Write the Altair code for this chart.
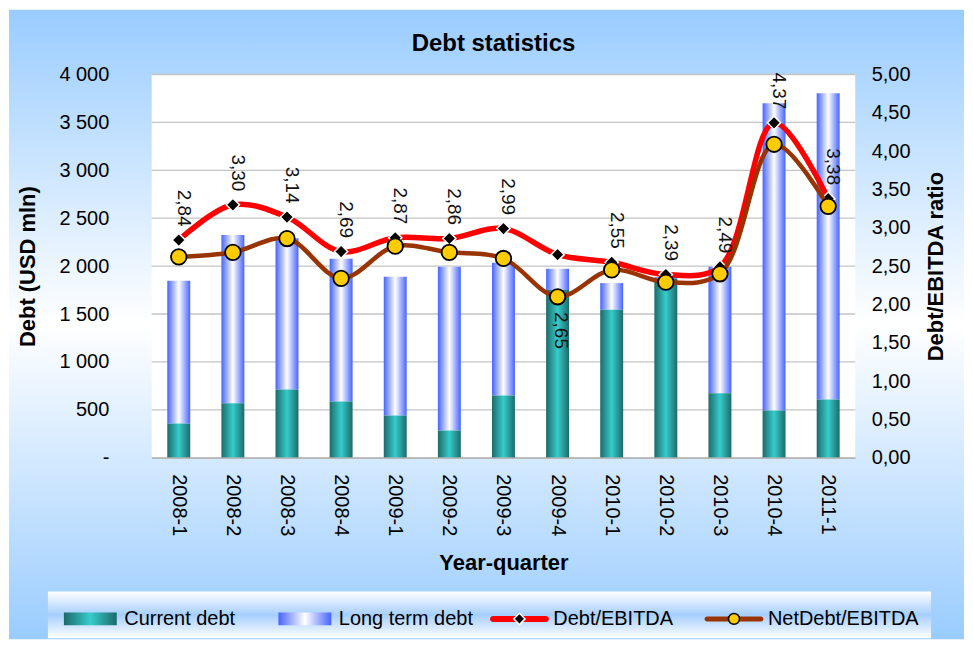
import altair as alt
import pandas as pd

# ---------------- data ----------------
quarters = ["2008-1", "2008-2", "2008-3", "2008-4", "2009-1", "2009-2", "2009-3",
            "2009-4", "2010-1", "2010-2", "2010-3", "2010-4", "2011-1"]
current_debt = [357, 569, 711, 586, 441, 284, 650, 1750, 1545, 1870, 673, 493, 607]
long_term_debt = [1490, 1757, 1581, 1490, 1447, 1709, 1385, 222, 278, 15, 1320, 3208, 3198]
debt_ebitda = [2.84, 3.30, 3.14, 2.69, 2.87, 2.86, 2.99, 2.65, 2.55, 2.39, 2.49, 4.37, 3.38]
netdebt_ebitda = [2.62, 2.68, 2.86, 2.34, 2.76, 2.68, 2.60, 2.10, 2.45, 2.29, 2.40, 4.09, 3.28]
debt_ticks = [0, 500, 1000, 1500, 2000, 2500, 3000, 3500, 4000]
ratio_ticks = [0, 0.5, 1.0, 1.5, 2.0, 2.5, 3.0, 3.5, 4.0, 4.5, 5.0]
legend_items = ["Current debt", "Long term debt", "Debt/EBITDA", "NetDebt/EBITDA"]

FONT = "Liberation Sans"
W, H = 705, 384

df = pd.DataFrame({
    "quarter": quarters,
    "current": current_debt,
    "long_term": long_term_debt,
    "debt_ratio": debt_ebitda,
    "net_ratio": netdebt_ebitda,
})
one_row = pd.DataFrame({"k": [0]})
ticks_df = pd.DataFrame({"tick": debt_ticks})
leg_df = pd.DataFrame({"item": legend_items})


def hgrad(edge, mid):
    return alt.LinearGradient(
        gradient="linear", x1=0, x2=1, y1=0, y2=0,
        stops=[alt.GradientStop(color=edge, offset=0),
               alt.GradientStop(color=mid, offset=0.5),
               alt.GradientStop(color=edge, offset=1)])


def vgrad(edge, mid):
    return alt.LinearGradient(
        gradient="linear", x1=0, x2=0, y1=0, y2=1,
        stops=[alt.GradientStop(color=edge, offset=0),
               alt.GradientStop(color=mid, offset=0.5),
               alt.GradientStop(color=edge, offset=1)])


teal_grad = hgrad("#1d6a6a", "#36cccc")
blue_grad = hgrad("#4664ff", "#ffffff")
bg_grad = vgrad("#99ccff", "#ffffff")
legend_grad = vgrad("#ffffff", "#a6cffd")

base = alt.Chart(df).transform_calculate(
    total="datum.current + datum.long_term",
    lbl="replace(format(datum.debt_ratio, '.2f'), '.', ',')",
)

# same axis objects are used in every layer that shares a scale
x_scale = alt.Scale(paddingInner=0, paddingOuter=0)
x_axis = alt.Axis(
    title="Year-quarter", labelAngle=90, labelFontSize=20, labelPadding=16,
    ticks=False, tickSize=0, domainColor="#b8b8b8", domainWidth=1.5,
    labelColor="black", titleColor="black", titleFontSize=22,
    titleFontWeight="bold", titlePadding=17, grid=False, zindex=1)
x_enc = alt.X("quarter:N", sort=quarters, scale=x_scale, axis=x_axis)

debt_scale = alt.Scale(domain=[0, 4000], nice=False, zero=True)
left_axis = alt.Axis(
    title="Debt (USD mln)", values=debt_ticks,
    labelExpr="datum.value == 0 ? '-' : replace(format(datum.value, ','), ',', ' ')",
    labelFontSize=20, labelPadding=43, ticks=False, tickSize=0, domain=False,
    grid=False, labelColor="black", titleColor="black", titleFontSize=22,
    titleFontWeight="bold", titlePadding=19, zindex=1)

ratio_scale = alt.Scale(domain=[0, 5], nice=False, zero=True)
right_axis = alt.Axis(
    orient="right", title="Debt/EBITDA ratio", values=ratio_ticks,
    labelExpr="replace(format(datum.value, '.2f'), '.', ',')",
    labelFontSize=20, labelPadding=16, ticks=False, tickSize=0, domain=False,
    grid=False, labelColor="black", titleColor="black", titleFontSize=22,
    titleFontWeight="bold", titleAngle=270, titleBaseline="top",
    titlePadding=16, zindex=1)

y_debt = lambda f: alt.Y(f, scale=debt_scale, axis=left_axis, stack=None)
y_ratio = lambda f: alt.Y(f, scale=ratio_scale, axis=right_axis)

# ---------------- main panel ----------------
background = alt.Chart(one_row).mark_rect(fill=bg_grad).encode(
    x=alt.value(-143), x2=alt.value(814), y=alt.value(-65), y2=alt.value(566))
plot_bg = alt.Chart(one_row).mark_rect(fill="white").encode(
    x=alt.value(0), x2=alt.value(W), y=alt.value(0), y2=alt.value(H))
grid = alt.Chart(ticks_df).mark_rule(color="#c4c4c4", strokeWidth=1.3).encode(
    y=y_debt("tick:Q"))

bars_cur = base.mark_bar(width=23, fill=teal_grad).encode(
    x=x_enc, y=y_debt("current:Q"))
bars_long = base.mark_bar(width=23, fill=blue_grad).encode(
    x=x_enc, y=y_debt("current:Q"), y2="total:Q")

red_line = base.mark_line(color="#ff0000", strokeWidth=5.5, interpolate="catmull-rom").encode(
    x=x_enc, y=y_ratio("debt_ratio:Q"))
diamonds = base.mark_point(shape="diamond", filled=True, fill="black", stroke="white",
                           strokeWidth=1.5, size=175, opacity=1).encode(
    x=x_enc, y=y_ratio("debt_ratio:Q"))
brown_line = base.mark_line(color="#993300", strokeWidth=4.5, interpolate="catmull-rom").encode(
    x=x_enc, y=y_ratio("net_ratio:Q"))
circles = base.mark_point(shape="circle", filled=True, fill="#ffcc00", stroke="black",
                          strokeWidth=1.8, size=240, opacity=1).encode(
    x=x_enc, y=y_ratio("net_ratio:Q"))
labels_above = base.transform_filter("datum.quarter != '2009-4'").mark_text(
    angle=90, fontSize=19, dx=-32, dy=-5, color="#111111", align="center",
    baseline="middle").encode(x=x_enc, y=y_ratio("debt_ratio:Q"), text="lbl:N")
labels_below = base.transform_filter("datum.quarter == '2009-4'").mark_text(
    angle=90, fontSize=19, dx=76, dy=-3, color="#111111", align="center",
    baseline="middle").encode(x=x_enc, y=y_ratio("debt_ratio:Q"), text="lbl:N")

left_group = alt.layer(background, plot_bg, grid, bars_long, bars_cur)
right_group = alt.layer(red_line, diamonds, brown_line, circles, labels_above, labels_below)

main = alt.layer(left_group, right_group).resolve_scale(y="independent").resolve_axis(
    y="independent").properties(
    width=W, height=H,
    title=alt.TitleParams(text="Debt statistics", frame="group", anchor="middle",
                          fontSize=24, fontWeight="bold", offset=-46, dx=-10,
                          color="black"))

# ---------------- legend ----------------
LH = 47
leg_scale = alt.Scale(type="point", domain=legend_items, range=[-61.5, 583.5], padding=0)
lx = alt.X("item:N", scale=leg_scale, axis=None)
leg = alt.Chart(leg_df)

leg_box = alt.Chart(one_row).mark_rect(fill=legend_grad).encode(
    x=alt.value(-104), x2=alt.value(781), y=alt.value(0), y2=alt.value(LH))
sw_cur = leg.transform_filter("datum.item == 'Current debt'").mark_rect(
    width=53, fill=teal_grad).encode(x=lx, y=alt.value(21), y2=alt.value(34))
sw_long = leg.transform_filter("datum.item == 'Long term debt'").mark_rect(
    width=53, fill=blue_grad).encode(x=lx, y=alt.value(21), y2=alt.value(34))
ln_red = leg.transform_filter("datum.item == 'Debt/EBITDA'").mark_rect(
    width=59, fill="#ff0000", cornerRadius=3).encode(x=lx, y=alt.value(24.5), y2=alt.value(30.5))
pt_red = leg.transform_filter("datum.item == 'Debt/EBITDA'").mark_point(
    shape="diamond", filled=True, fill="black", stroke="white", strokeWidth=1.5,
    size=130, opacity=1).encode(x=lx, y=alt.value(27.5))
ln_brown = leg.transform_filter("datum.item == 'NetDebt/EBITDA'").mark_rect(
    width=59, fill="#993300", cornerRadius=3).encode(x=lx, y=alt.value(25), y2=alt.value(30))
pt_brown = leg.transform_filter("datum.item == 'NetDebt/EBITDA'").mark_point(
    shape="circle", filled=True, fill="#ffcc00", stroke="black", strokeWidth=1.5,
    size=120, opacity=1).encode(x=lx, y=alt.value(27.5))
leg_text = leg.mark_text(align="left", baseline="middle", dx=34, fontSize=20,
                         color="black").encode(x=lx, y=alt.value(28), text="item:N")

legend = alt.layer(leg_box, sw_cur, sw_long, ln_red, pt_red, ln_brown, pt_brown,
                   leg_text).properties(width=W, height=LH)

chart = alt.vconcat(main, legend, spacing=134, bounds="flush").resolve_scale(
    x="independent", y="independent").properties(
    padding=0, background="white").configure(font=FONT).configure_view(
    stroke="transparent")

chart.save("out.html", embed_options={"renderer": "svg", "actions": False})
